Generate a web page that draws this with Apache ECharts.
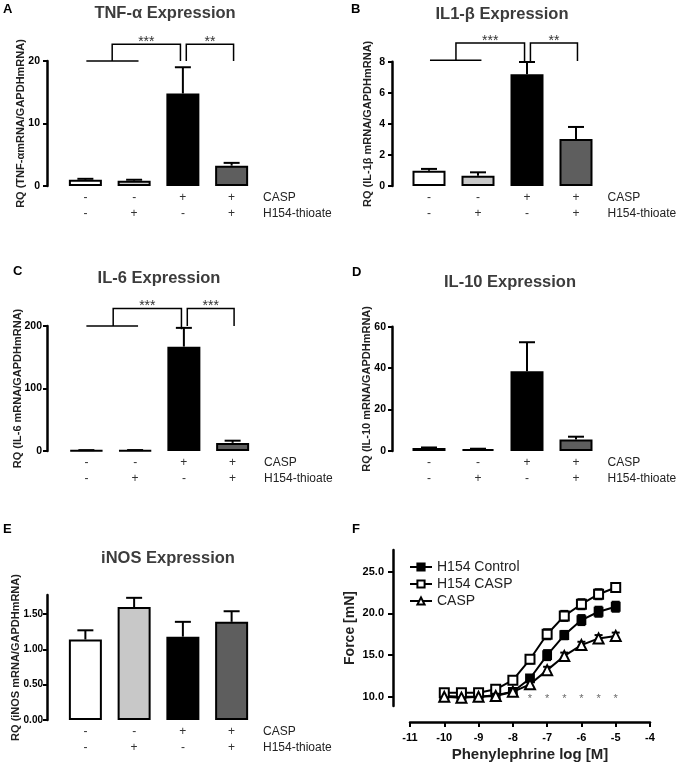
<!DOCTYPE html>
<html><head><meta charset="utf-8">
<script src="https://cdn.jsdelivr.net/npm/echarts@6/dist/echarts.min.js"></script>
<style>html,body{margin:0;padding:0;background:#fff}#c{width:688px;height:766px}</style>
</head><body><div id="c"></div>
<script>
// ---------- data ----------
const groups = ['G1', 'G2', 'G3', 'G4'];
const caspRow = ['-', '-', '+', '+'];
const h154Row = ['-', '+', '-', '+'];

const tnfMean = [1.0, 0.85, 14.8, 3.25];
const tnfErr = [0.15, 0.15, 4.2, 0.45];
const il1bMean = [0.98, 0.66, 7.2, 3.03];
const il1bErr = [0.12, 0.22, 0.78, 0.77];
const il6Mean = [1.0, 1.1, 167, 13];
const il6Err = [0.4, 0.4, 30, 3.5];
const il10Mean = [1.4, 0.9, 38.5, 5.6];
const il10Err = [0.3, 0.2, 14, 1.3];
const inosMean = [1.14, 1.60, 1.18, 1.39];
const inosErr = [0.13, 0.13, 0.21, 0.15];

// brackets: [catBase, x1, x2, yLeft, yRight, yTop]
const tnfGroupLine = [[0, 0.02, 1.09, 20]];
const tnfBrackets = [[0, 0.55, 1.95, 20, 20, 22.7], [0, 2.07, 3.04, 20, 20, 22.7]];
const tnfStars = ['***', '**'];
const il1bGroupLine = [[0, 0.02, 1.07, 8.1]];
const il1bBrackets = [[0, 0.55, 1.95, 8.1, 8.0, 9.2], [0, 2.07, 3.03, 8.04, 8.04, 9.2]];
const il1bStars = ['***', '**'];
const il6GroupLine = [[0, 0.0, 1.06, 200]];
const il6Brackets = [[0, 0.55, 1.95, 200, 195, 228], [0, 2.07, 3.03, 200, 200, 228]];
const il6Stars = ['***', '***'];

const logDose = [-10, -9.5, -9, -8.5, -8, -7.5, -7, -6.5, -6, -5.5, -5];
const ctrlMean = [10.1, 10.0, 10.0, 10.2, 10.6, 12.2, 15.0, 17.4, 19.2, 20.2, 20.8];
const ctrlErr = [0.2, 0.2, 0.2, 0.2, 0.25, 0.4, 0.6, 0.5, 0.6, 0.6, 0.6];
const h154CaspMean = [10.5, 10.5, 10.5, 10.9, 12.0, 14.5, 17.5, 19.7, 21.1, 22.3, 23.1];
const h154CaspErr = [0.2, 0.2, 0.2, 0.2, 0.3, 0.5, 0.6, 0.6, 0.6, 0.6, 0.5];
const caspMean = [10.0, 9.9, 10.0, 10.1, 10.6, 11.5, 13.2, 14.9, 16.2, 17.0, 17.3];
const caspErr = [0.2, 0.2, 0.2, 0.2, 0.25, 0.4, 0.4, 0.4, 0.4, 0.4, 0.4];
const sigDose = [-7.5, -7, -6.5, -6, -5.5, -5];
const sigLevel = 9.8;

// ---------- styling / layout ----------
const FONT = '"Liberation Sans", Arial, Helvetica, sans-serif';
const barColors = ['#ffffff', '#c8c8c8', '#000000', '#5e5e5e'];

const panels = [
  {mean: tnfMean, err: tnfErr, grid: {left: 61, top: 61, width: 195, height: 125}, off: 14, max: 20, ticks: [0, 10, 20], dec: 0,
   name: 'RQ (TNF-αmRNA/GAPDHmRNA)', ng: 21, lm: 7, lf: 10.5, gl: tnfGroupLine, br: tnfBrackets, st: tnfStars,
   title: 'TNF-α Expression', tx: 165, ty: 13, letter: 'A', lx: 3, ly: 9},
  {mean: il1bMean, err: il1bErr, grid: {left: 404.5, top: 61.7, width: 196, height: 124.3}, off: 12.5, max: 8, ticks: [0, 2, 4, 6, 8], dec: 0,
   name: 'RQ (IL-1β mRNA/GAPDHmRNA)', ng: 19, lm: 7, lf: 10.5, gl: il1bGroupLine, br: il1bBrackets, st: il1bStars,
   title: 'IL1-β Expression', tx: 502, ty: 14, letter: 'B', lx: 351, ly: 9},
  {mean: il6Mean, err: il6Err, grid: {left: 62, top: 326, width: 195, height: 125}, off: 15, max: 200, ticks: [0, 100, 200], dec: 0,
   name: 'RQ (IL-6 mRNA/GAPDHmRNA)', ng: 24, lm: 5, lf: 10.5, gl: il6GroupLine, br: il6Brackets, st: il6Stars,
   title: 'IL-6 Expression', tx: 159, ty: 278, letter: 'C', lx: 13, ly: 271},
  {mean: il10Mean, err: il10Err, grid: {left: 404.5, top: 326.7, width: 196, height: 124.3}, off: 12.5, max: 60, ticks: [0, 20, 40, 60], dec: 0,
   name: 'RQ (IL-10 mRNA/GAPDHmRNA)', ng: 19.5, lm: 6, lf: 10.5, gl: null, br: null, st: null,
   title: 'IL-10 Expression', tx: 510, ty: 282, letter: 'D', lx: 352, ly: 272},
  {mean: inosMean, err: inosErr, grid: {left: 61, top: 595, width: 195, height: 125}, off: 14, max: 1.77, ticks: [0, 0.5, 1, 1.5], dec: 2,
   name: 'RQ (iNOS mRNA/GAPDHmRNA)', ng: 26, lm: 4, lf: 10, gl: null, br: null, st: null,
   title: 'iNOS Expression', tx: 168, ty: 558, letter: 'E', lx: 3, ly: 529}
];

const grids = [], xAxes = [], yAxes = [], series = [], graphics = [];

function errRender(params, api) {
  const i = api.value(0), m = api.value(1), e = api.value(2);
  const p1 = api.coord([i, m]), p2 = api.coord([i, m + e]);
  const cap = 8;
  return {type: 'group', children: [
    {type: 'line', shape: {x1: p1[0], y1: p1[1], x2: p2[0], y2: p2[1]}, style: {stroke: '#000', lineWidth: 2}},
    {type: 'line', shape: {x1: p2[0] - cap, y1: p2[1], x2: p2[0] + cap, y2: p2[1]}, style: {stroke: '#000', lineWidth: 2}}
  ]};
}
function groupLineRender(params, api) {
  const o = api.coord([api.value(0), api.value(3)]);
  const band = api.size([1, 0])[0];
  return {type: 'line', shape: {x1: o[0] + api.value(1) * band, y1: o[1], x2: o[0] + api.value(2) * band, y2: o[1]},
    style: {stroke: '#000', lineWidth: 1.5}};
}
function bracketRender(labels) {
  return function (params, api) {
    const base = api.value(0);
    const o = api.coord([base, api.value(5)]);
    const band = api.size([1, 0])[0];
    const X1 = o[0] + api.value(1) * band, X2 = o[0] + api.value(2) * band;
    const YL = api.coord([base, api.value(3)])[1], YR = api.coord([base, api.value(4)])[1], YT = o[1];
    return {type: 'group', children: [
      {type: 'polyline', shape: {points: [[X1, YL], [X1, YT], [X2, YT], [X2, YR]]}, style: {stroke: '#000', lineWidth: 1.5, fill: null}},
      {type: 'text', x: (X1 + X2) / 2, y: YT - 2, style: {text: labels[params.dataIndex], font: '14px ' + FONT, fill: '#333', align: 'center', verticalAlign: 'middle'}}
    ]};
  };
}

panels.forEach((p, k) => {
  grids.push(Object.assign({outerBoundsMode: 'none'}, p.grid));
  xAxes.push({
    type: 'category', gridIndex: k, data: groups,
    axisLine: {show: false}, axisTick: {show: false},
    axisLabel: {interval: 0, margin: 4, lineHeight: 16, fontSize: 12, color: '#333', fontFamily: FONT,
      formatter: (v, i) => caspRow[i] + '\n' + h154Row[i]}
  });
  yAxes.push({
    type: 'value', gridIndex: k, min: 0, max: p.max, offset: p.off,
    splitLine: {show: false},
    axisLine: {show: true, lineStyle: {color: '#000', width: 2.5}},
    axisTick: {show: true, length: 4, lineStyle: {color: '#000', width: 2}, customValues: p.ticks},
    axisLabel: {customValues: p.ticks, margin: p.lm, fontSize: p.lf, fontWeight: 'bold', color: '#000', fontFamily: FONT,
      formatter: v => v.toFixed(p.dec)},
    name: p.name, nameLocation: 'middle', nameGap: p.ng, nameMoveOverlap: false,
    nameTextStyle: {fontSize: 11, fontWeight: 'bold', color: '#222', fontFamily: FONT}
  });
  series.push({
    type: 'bar', xAxisIndex: k, yAxisIndex: k, barWidth: 33, z: 3,
    data: p.mean.map((v, i) => ({value: v, itemStyle: {color: barColors[i], borderColor: '#000', borderWidth: 2}}))
  });
  series.push({
    type: 'custom', xAxisIndex: k, yAxisIndex: k, z: 2, clip: false,
    encode: {x: 0, y: 1},
    data: p.mean.map((v, i) => [i, v, p.err[i]]),
    renderItem: errRender
  });
  if (p.gl) {
    series.push({type: 'custom', xAxisIndex: k, yAxisIndex: k, z: 4, clip: false,
      dimensions: ['c', 'x1', 'x2', 'y'], encode: {x: 'c', y: 'y'}, data: p.gl, renderItem: groupLineRender});
    series.push({type: 'custom', xAxisIndex: k, yAxisIndex: k, z: 4, clip: false,
      dimensions: ['c', 'x1', 'x2', 'yl', 'yr', 'yt'], encode: {x: 'c', y: 'yt'}, data: p.br, renderItem: bracketRender(p.st)});
  }
  const baseY = p.grid.top + p.grid.height;
  const rx = p.grid.left + p.grid.width + 7;
  graphics.push({type: 'text', x: rx, y: baseY + 12, style: {text: 'CASP', font: '12px ' + FONT, fill: '#222', align: 'left', verticalAlign: 'middle'}});
  graphics.push({type: 'text', x: rx, y: baseY + 28, style: {text: 'H154-thioate', font: '12px ' + FONT, fill: '#222', align: 'left', verticalAlign: 'middle'}});
  graphics.push({type: 'text', x: p.tx, y: p.ty, style: {text: p.title, font: 'bold 16.5px ' + FONT, fill: '#3c3c3c', align: 'center', verticalAlign: 'middle'}});
  graphics.push({type: 'text', x: p.lx, y: p.ly, style: {text: p.letter, font: 'bold 13px ' + FONT, fill: '#000', align: 'left', verticalAlign: 'middle'}});
});

// ---------- panel F ----------
const fi = panels.length;
grids.push({outerBoundsMode: 'none', left: 410, top: 550, width: 240, height: 156});
xAxes.push({
  type: 'value', gridIndex: fi, min: -11, max: -4, interval: 1, offset: 16,
  splitLine: {show: false},
  axisLine: {show: true, onZero: false, lineStyle: {color: '#000', width: 2.5}},
  axisTick: {show: true, length: 5, lineStyle: {color: '#000', width: 2}},
  axisLabel: {margin: 10, fontSize: 11, fontWeight: 'bold', color: '#000', fontFamily: FONT},
  name: 'Phenylephrine log [M]', nameLocation: 'middle', nameGap: 25, nameMoveOverlap: false,
  nameTextStyle: {fontSize: 15, fontWeight: 'bold', color: '#222', fontFamily: FONT}
});
const fTicks = [10, 15, 20, 25];
yAxes.push({
  type: 'value', gridIndex: fi, min: 8.9, max: 27.6, offset: 17,
  splitLine: {show: false},
  axisLine: {show: true, onZero: false, lineStyle: {color: '#000', width: 2.5}},
  axisTick: {show: true, length: 5, lineStyle: {color: '#000', width: 2}, customValues: fTicks},
  axisLabel: {customValues: fTicks, margin: 9, fontSize: 11, fontWeight: 'bold', color: '#000', fontFamily: FONT, formatter: v => v.toFixed(1)},
  name: 'Force [mN]', nameLocation: 'middle', nameGap: 36, nameMoveOverlap: false,
  nameTextStyle: {fontSize: 14, fontWeight: 'bold', color: '#222', fontFamily: FONT}
});
function errSym(params, api) {
  const x = api.value(0), m = api.value(1), e = api.value(2);
  const a = api.coord([x, m + e]), b = api.coord([x, m - e]);
  const cap = 4;
  return {type: 'group', children: [
    {type: 'line', shape: {x1: a[0], y1: a[1], x2: b[0], y2: b[1]}, style: {stroke: '#000', lineWidth: 2}},
    {type: 'line', shape: {x1: a[0] - cap, y1: a[1], x2: a[0] + cap, y2: a[1]}, style: {stroke: '#000', lineWidth: 2}},
    {type: 'line', shape: {x1: b[0] - cap, y1: b[1], x2: b[0] + cap, y2: b[1]}, style: {stroke: '#000', lineWidth: 2}}
  ]};
}
const fSeries = [
  {name: 'H154 Control', mean: ctrlMean, err: ctrlErr, symbol: 'rect', size: 8},
  {name: 'H154 CASP', mean: h154CaspMean, err: h154CaspErr, symbol: 'emptyRect', size: 9},
  {name: 'CASP', mean: caspMean, err: caspErr, symbol: 'emptyTriangle', size: 10}
];
fSeries.forEach((s) => {
  series.push({type: 'custom', xAxisIndex: fi, yAxisIndex: fi, z: 2, clip: false, encode: {x: 0, y: 1},
    data: logDose.map((x, i) => [x, s.mean[i], s.err[i]]), renderItem: errSym});
});
fSeries.forEach((s) => {
  series.push({type: 'line', name: s.name, xAxisIndex: fi, yAxisIndex: fi, z: 3,
    symbol: s.symbol, symbolSize: s.size, showAllSymbol: true, color: '#000',
    lineStyle: {color: '#000', width: 2},
    itemStyle: {color: '#000', borderColor: '#000', borderWidth: 1.8},
    data: logDose.map((x, i) => [x, s.mean[i]])});
});
series.push({type: 'scatter', xAxisIndex: fi, yAxisIndex: fi, symbolSize: 0, z: 4,
  label: {show: true, position: 'inside', formatter: '*', fontSize: 11, color: '#444', fontFamily: FONT},
  data: sigDose.map(x => [x, sigLevel])});
graphics.push({type: 'text', x: 352, y: 529, style: {text: 'F', font: 'bold 13px ' + FONT, fill: '#000', align: 'left', verticalAlign: 'middle'}});

const option = {
  animation: false,
  backgroundColor: '#fff',
  grid: grids, xAxis: xAxes, yAxis: yAxes, series: series,
  legend: {data: fSeries.map(s => s.name), orient: 'vertical', left: 404, top: 555,
    itemWidth: 22, itemHeight: 9, itemGap: 3,
    textStyle: {fontSize: 14, color: '#222', fontFamily: FONT}},
  graphic: graphics
};
const chart = echarts.init(document.getElementById('c'));
chart.setOption(option);
</script></body></html>
